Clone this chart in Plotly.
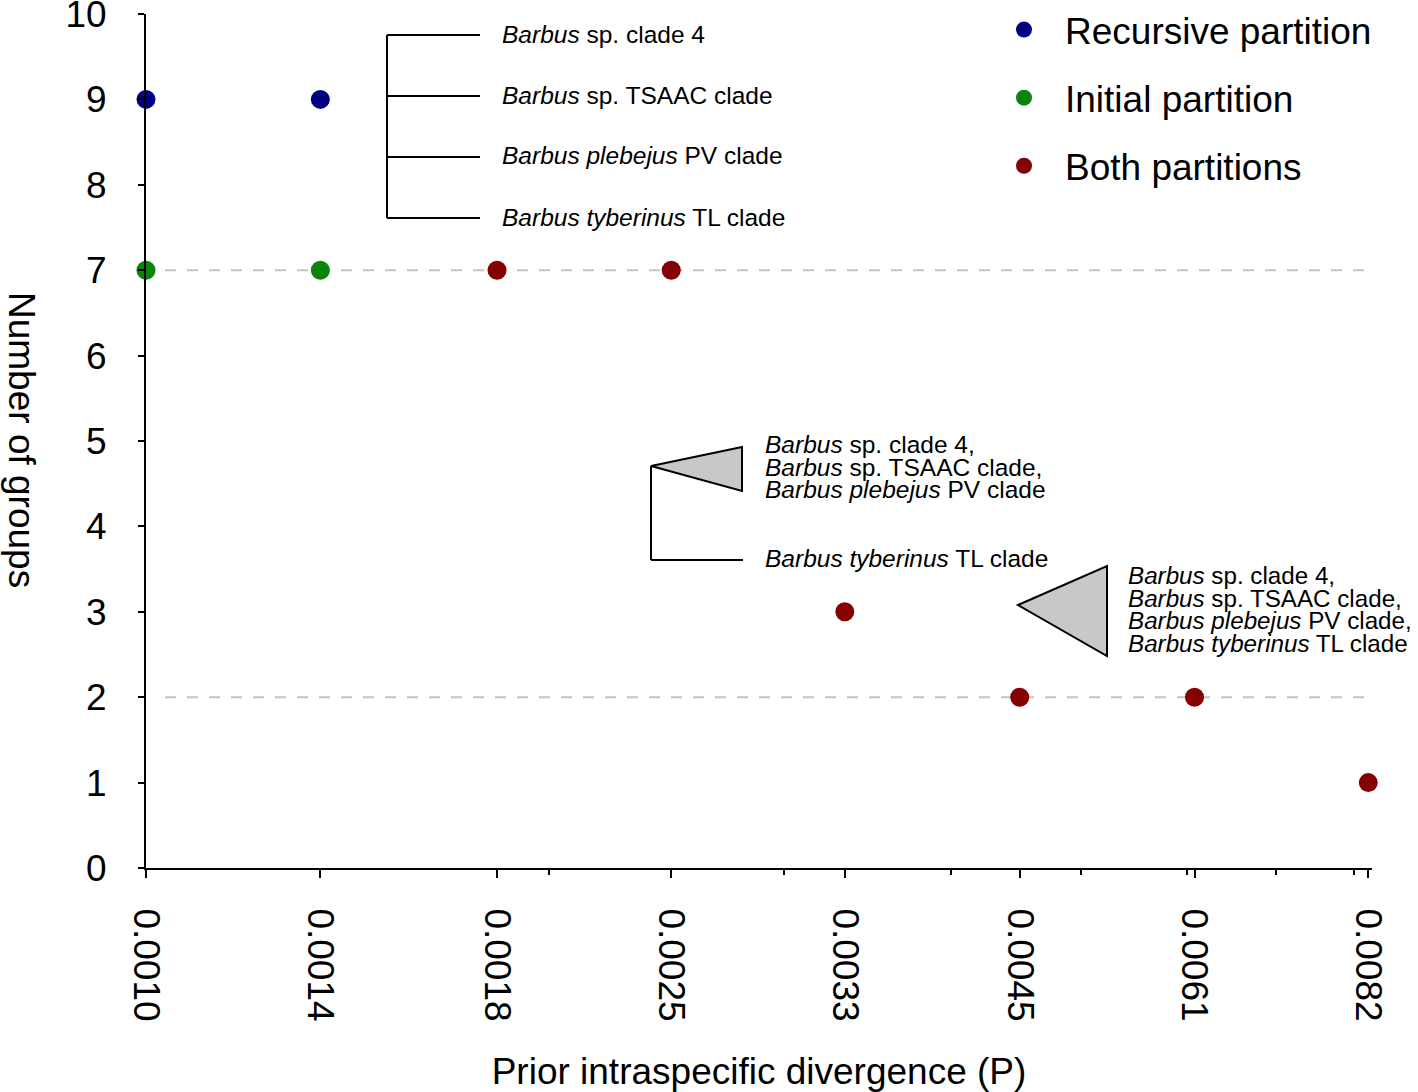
import math
import plotly.graph_objects as go

# ---------------- data ----------------
prior_p = [0.00100, 0.00135, 0.00183, 0.00247, 0.00333, 0.00450, 0.00608, 0.00820]
tick_labels = ["0.0010", "0.0014", "0.0018", "0.0025", "0.0033", "0.0045", "0.0061", "0.0082"]
minor_ticks = [0.002, 0.003, 0.004, 0.005, 0.006, 0.007, 0.008]

recursive_x = [0.00100, 0.00135]
recursive_y = [9, 9]
initial_x = [0.00100, 0.00135]
initial_y = [7, 7]
both_x = [0.00183, 0.00247, 0.00333, 0.00450, 0.00608, 0.00820]
both_y = [7, 7, 3, 2, 2, 1]

ref_lines = [7, 2]
y_ticks = list(range(0, 11))

series_names = ["Recursive partition", "Initial partition", "Both partitions"]
series_colors = ["#000080", "#0c840c", "#850000"]

# ---------------- layout helpers ----------------
W, H = 1418, 1092
L, R, T, B = 146, 1372, 14, 868
FONT = "Liberation Sans, Arial, sans-serif"
ANN = 24.5


def fx(px):
    return (px - L) / (R - L)


def fy(py):
    return (B - py) / (B - T)


fig = go.Figure()
for name, xs, ys, col in zip(series_names,
                             [recursive_x, initial_x, both_x],
                             [recursive_y, initial_y, both_y],
                             series_colors):
    fig.add_trace(go.Scatter(
        x=xs, y=ys, mode="markers", name=name, legendgroup=name,
        marker=dict(size=19, color=col, line=dict(width=0)),
        cliponaxis=False,
    ))

shapes = []
for yv in ref_lines:
    shapes.append(dict(type="line", xref="paper", yref="y", x0=fx(165), x1=1.0,
                       y0=yv, y1=yv, layer="below",
                       line=dict(color="#c4c4c4", width=2, dash="11px,11px")))


def seg(x0, y0, x1, y1):
    return dict(type="line", xref="paper", yref="paper",
                x0=fx(x0), y0=fy(y0), x1=fx(x1), y1=fy(y1),
                line=dict(color="black", width=2))


def tri(ax, ay, bx, by0, by1):
    path = "M {} {} L {} {} L {} {} Z".format(fx(ax), fy(ay), fx(bx), fy(by0), fx(bx), fy(by1))
    return dict(type="path", xref="paper", yref="paper", path=path,
                fillcolor="#c8c8c8", line=dict(color="black", width=2))


# top tree
shapes.append(seg(387, 35, 387, 218))
for yy in [35, 96, 157, 218]:
    shapes.append(seg(387, yy, 480, yy))
# middle tree
shapes.append(seg(651, 466, 651, 560))
shapes.append(seg(651, 560, 743, 560))
shapes.append(tri(651, 466, 742, 447, 491))
# bottom triangle
shapes.append(tri(1018, 605, 1107, 566, 656))

annotations = []


def lab(px, py, text, size=ANN):
    annotations.append(dict(xref="paper", yref="paper", x=fx(px), y=fy(py),
                            xanchor="left", yanchor="middle", showarrow=False,
                            text=text, font=dict(family=FONT, size=size, color="black")))


top_labels = ["<i>Barbus</i> sp. clade 4", "<i>Barbus</i> sp. TSAAC clade",
              "<i>Barbus plebejus</i> PV clade", "<i>Barbus tyberinus</i> TL clade"]
for yy, t in zip([34, 95, 156, 217], top_labels):
    lab(500, yy, t)

mid_labels = ["<i>Barbus</i> sp. clade 4,", "<i>Barbus</i> sp. TSAAC clade,",
              "<i>Barbus plebejus</i> PV clade"]
for yy, t in zip([444, 467, 490], mid_labels):
    lab(763, yy, t)
lab(763, 558, "<i>Barbus tyberinus</i> TL clade")

bot_labels = ["<i>Barbus</i> sp. clade 4,", "<i>Barbus</i> sp. TSAAC clade,",
              "<i>Barbus plebejus</i> PV clade,", "<i>Barbus tyberinus</i> TL clade"]
for yy, t in zip([575, 598, 620, 643], bot_labels):
    lab(1126, yy, t, size=24.2)

# y-axis title (reads top to bottom)
annotations.append(dict(xref="paper", yref="paper", x=fx(22), y=fy(440),
                        xanchor="center", yanchor="middle", showarrow=False,
                        textangle=90, text="Number of groups",
                        font=dict(family=FONT, size=37, color="black")))

fig.update_layout(
    width=W, height=H,
    margin=dict(l=L, r=W - R, t=T, b=H - B, autoexpand=False),
    paper_bgcolor="white", plot_bgcolor="white",
    font=dict(family=FONT, color="black"),
    shapes=shapes, annotations=annotations,
    showlegend=True,
    legend=dict(x=fx(983), y=fy(-1), xanchor="left", yanchor="top",
                font=dict(family=FONT, size=37, color="black"),
                traceorder="grouped", tracegroupgap=17, itemwidth=72,
                bgcolor="rgba(0,0,0,0)", itemsizing="trace"),
    xaxis=dict(
        type="log", range=[math.log10(0.001), -2.0834],
        tickmode="array", tickvals=prior_p, ticktext=tick_labels,
        tickangle=90, ticks="outside", ticklen=8, tickwidth=2, tickcolor="black",
        tickfont=dict(family=FONT, size=37, color="black"),
        ticklabelstandoff=23, ticklabeloverflow="allow",
        showline=True, linecolor="black", linewidth=2,
        showgrid=False, zeroline=False,
        minor=dict(tickvals=minor_ticks, ticks="outside", ticklen=5,
                   tickwidth=2, tickcolor="black", showgrid=False),
        title=dict(text="Prior intraspecific divergence (P)",
                   font=dict(family=FONT, size=37, color="black"), standoff=39),
        automargin=False,
    ),
    yaxis=dict(
        range=[0, 10], tickmode="array", tickvals=y_ticks,
        ticks="outside", ticklen=6, tickwidth=2, tickcolor="black",
        tickfont=dict(family=FONT, size=37, color="black"),
        ticklabelstandoff=24, ticklabeloverflow="allow",
        showline=True, linecolor="black", linewidth=2,
        showgrid=False, zeroline=False, automargin=False,
    ),
)

fig.write_html("out.html", config={"displayModeBar": False},
               post_script="document.body.style.margin='0px';")
